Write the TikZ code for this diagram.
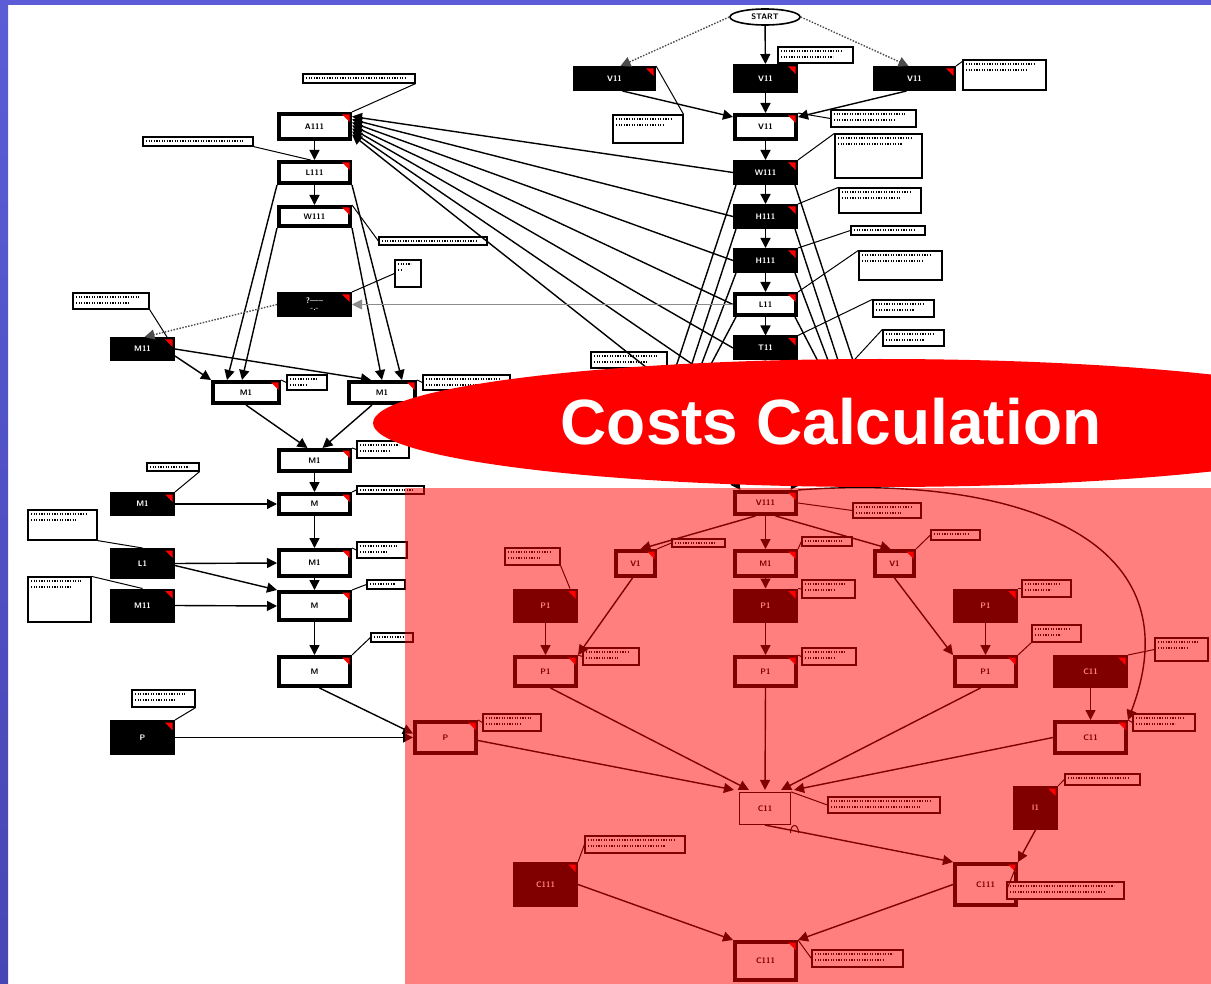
\documentclass[tikz,border=0pt]{standalone}
\usepackage{fontspec}
\newfontfamily\titlefont{Liberation Sans}
\usetikzlibrary{shapes.geometric,arrows.meta,calc}
\newcommand\nlab{\sffamily\bfseries\fontsize{8}{9}\selectfont}
\definecolor{slideblue}{RGB}{92,92,214}
\definecolor{slideblueb}{RGB}{70,70,180}
\begin{document}
\begin{tikzpicture}[x=1pt,y=-1pt,
  base/.style={rectangle, inner sep=0pt, font=\nlab, align=center},
  bk/.style={base, fill=black, text=white, draw=black, line width=1pt},
  wt/.style={base, fill=white, draw=black, line width=4pt},
  tn/.style={base, fill=white, draw=black, line width=1.2pt},
  startn/.style={ellipse, draw=black, line width=1.6pt, fill=white, inner sep=0pt,
     minimum width=70, minimum height=16, font=\nlab},
  cmt/.style={rectangle, draw=black, fill=white, line width=1.2pt, inner sep=0pt,
     path picture={\draw[line width=1.6pt, dash pattern=on 1.2pt off 1.4pt]
       ([xshift=3pt,yshift=-4pt]path picture bounding box.north west) --
       ([xshift=-10pt,yshift=-4pt]path picture bounding box.north east);}},
  cmtb/.style={cmt,
     path picture={\draw[line width=1.6pt, dash pattern=on 1.2pt off 1.4pt]
       ([xshift=3pt,yshift=-4pt]path picture bounding box.north west) --
       ([xshift=-10pt,yshift=-4pt]path picture bounding box.north east)
       ([xshift=3pt,yshift=-10pt]path picture bounding box.north west) --
       ([xshift=-20pt,yshift=-10pt]path picture bounding box.north east);}},
  arr/.style={-{Triangle[length=10pt,width=10pt]}, line width=1.4pt},
  dotarr/.style={arr, line width=1.4pt, dash pattern=on 1.5pt off 1.5pt, draw=black!70},
  cl/.style={line width=1pt}
]
\useasboundingbox (0,0) rectangle (1211,984);
\fill[white] (0,0) rectangle (1211,984);

% ---------- right column top ----------
\node[startn] (start) at (765,17) {START};
\node[bk, minimum width=82, minimum height=24] (vL) at (614.5,78.5) {V11};
\node[bk, minimum width=64, minimum height=28] (vC) at (765.5,78.5) {V11};
\node[bk, minimum width=82, minimum height=24] (vR) at (914.5,78.5) {V11};
\node[wt, minimum width=61, minimum height=24] (vW) at (765.5,127) {V11};
\node[bk, minimum width=64, minimum height=24] (w) at (765.5,172.5) {W111};
\node[bk, minimum width=64, minimum height=24] (h1) at (765.5,216.5) {H111};
\node[bk, minimum width=64, minimum height=24] (h2) at (765.5,260.5) {H111};
\node[wt, minimum width=61, minimum height=21] (l) at (765.5,304.5) {L11};
\node[bk, minimum width=64, minimum height=24] (t) at (765.5,348) {T11};

% ---------- left column ----------
\node[wt, minimum width=71, minimum height=25] (a) at (314.5,126.5) {A111};
\node[wt, minimum width=71, minimum height=21] (l1) at (314.5,172.5) {L111};
\node[wt, minimum width=71, minimum height=19] (w1) at (314.5,216.5) {W111};
\node[bk, minimum width=74, minimum height=24] (q) at (314.5,304.5) {?-----\\[-2pt]-.-};
\node[bk, minimum width=64, minimum height=23] (mB) at (142.5,349) {M11};
\node[wt, minimum width=66, minimum height=21] (m1) at (246,392.5) {M1};
\node[wt, minimum width=66, minimum height=21] (m2) at (382,392.5) {M1};
\node[wt, minimum width=71, minimum height=21] (m3) at (314.5,460.5) {M1};
\node[wt, minimum width=71, minimum height=20] (m4) at (314.5,504) {M};
\node[wt, minimum width=71, minimum height=26] (m5) at (314.5,563) {M1};
\node[wt, minimum width=71, minimum height=28] (m6) at (314.5,606) {M};
\node[wt, minimum width=71, minimum height=29] (m7) at (314.5,671.5) {M};
\node[bk, minimum width=64, minimum height=23] (mb1) at (142.5,504) {M1};
\node[bk, minimum width=64, minimum height=30] (lb) at (142.5,563.5) {L1};
\node[bk, minimum width=64, minimum height=33] (mb2) at (142.5,605.5) {M11};
\node[bk, minimum width=64, minimum height=34] (pb) at (142.5,737.5) {P};

% ---------- lower part ----------
\node[wt, minimum width=61, minimum height=22] (v111) at (765.5,503) {V111};
\node[wt, minimum width=39, minimum height=25] (va) at (635.5,563.5) {V1};
\node[wt, minimum width=61, minimum height=25] (mc) at (765.5,563.5) {M1};
\node[wt, minimum width=39, minimum height=25] (vb) at (894.5,563.5) {V1};
\node[bk, minimum width=64, minimum height=33] (pa) at (545.5,605.5) {P1};
\node[bk, minimum width=64, minimum height=33] (pbk) at (765.5,605.5) {P1};
\node[bk, minimum width=64, minimum height=33] (pc) at (985.5,605.5) {P1};
\node[wt, minimum width=61, minimum height=29] (pa2) at (545.5,671.5) {P1};
\node[wt, minimum width=61, minimum height=29] (pb2) at (765.5,671.5) {P1};
\node[wt, minimum width=61, minimum height=29] (pc2) at (985.5,671.5) {P1};
\node[bk, minimum width=74, minimum height=32] (cb) at (1090.5,671.5) {C11};
\node[wt, minimum width=61, minimum height=31] (pp) at (445.5,737.5) {P};
\node[wt, minimum width=71, minimum height=31] (ct) at (1090.5,737.5) {C11};
\node[tn, minimum width=51, minimum height=32] (cc) at (765,808.5) {C11};
\node[bk, minimum width=44, minimum height=43] (ib) at (1035.5,808) {I1};
\node[bk, minimum width=64, minimum height=44] (cbl) at (545.5,884.5) {C111};
\node[wt, minimum width=61, minimum height=41] (ct2) at (985.5,884.5) {C111};
\node[wt, minimum width=61, minimum height=38] (cbot) at (765.5,961) {C111};

% red corner marks
\foreach \n in {vL,vC,vR,vW,w,h1,h2,l,t,a,l1,w1,q,mB,m1,m2,m3,m4,m5,m6,m7,mb1,lb,mb2,pb,
  v111,va,mc,vb,pa,pbk,pc,pa2,pb2,pc2,cb,pp,ct,ib,cbl,ct2,cbot}
  \fill[red] ($(\n.north east)+(-10,2.5)$) -- ($(\n.north east)+(-2.5,2.5)$) -- ($(\n.north east)+(-2.5,10)$) -- cycle;

% ---------- comments ----------
\node[cmtb, minimum width=75, minimum height=16] (c1) at (815.5,55) {};
\node[cmtb, minimum width=83, minimum height=30] (c2) at (1004.5,75) {};
\node[cmtb, minimum width=70, minimum height=28] (c3) at (648,129) {};
\node[cmtb, minimum width=85, minimum height=17] (c4) at (873.5,118.5) {};
\node[cmtb, minimum width=87, minimum height=44] (c5) at (878.5,156) {};
\node[cmtb, minimum width=82, minimum height=25] (c6) at (880,200.5) {};
\node[cmt, minimum width=74, minimum height=9] (c7) at (888,230.5) {};
\node[cmtb, minimum width=83, minimum height=29] (c8) at (900.5,265.5) {};
\node[cmtb, minimum width=61, minimum height=17] (c9) at (903.5,308.5) {};
\node[cmtb, minimum width=61, minimum height=16] (c10) at (913.5,338) {};
\node[cmtb, minimum width=76, minimum height=16] (c11) at (629,360) {};
\node[cmt, minimum width=112, minimum height=9] (c12) at (359,78.5) {};
\node[cmt, minimum width=110, minimum height=9] (c13) at (198,141.5) {};
\node[cmt, minimum width=108, minimum height=8] (c14) at (433,241) {};
\node[cmtb, minimum width=26, minimum height=27] (c15) at (408,273.5) {};
\node[cmtb, minimum width=76, minimum height=16] (c16) at (111,301) {};
\node[cmtb, minimum width=40, minimum height=15] (c17) at (307,382.5) {};
\node[cmtb, minimum width=87, minimum height=15] (c18) at (466.5,382.5) {};
\node[cmtb, minimum width=52, minimum height=17] (c19) at (383,449.5) {};
\node[cmt, minimum width=67, minimum height=8] (c20) at (390.5,490) {};
\node[cmtb, minimum width=50, minimum height=16] (c21) at (382,550) {};
\node[cmt, minimum width=38, minimum height=9] (c22) at (386,584.5) {};
\node[cmt, minimum width=42, minimum height=9] (c23) at (392,637.5) {};
\node[cmt, minimum width=52, minimum height=8] (c24) at (173,467) {};
\node[cmtb, minimum width=69, minimum height=30] (c25) at (62.5,525) {};
\node[cmtb, minimum width=63, minimum height=45] (c26) at (59.5,599.5) {};
\node[cmtb, minimum width=63, minimum height=17] (c27) at (163.5,698.5) {};
\node[cmtb, minimum width=68, minimum height=15] (c28) at (887,510.5) {};
\node[cmt, minimum width=53, minimum height=8] (c29) at (698.5,543) {};
\node[cmt, minimum width=50, minimum height=9] (c30) at (827,541.5) {};
\node[cmt, minimum width=49, minimum height=10] (c31) at (955.5,535) {};
\node[cmtb, minimum width=55, minimum height=17] (c32) at (532.5,556.5) {};
\node[cmtb, minimum width=53, minimum height=18] (c33) at (828.5,589) {};
\node[cmtb, minimum width=49, minimum height=17] (c34) at (1046.5,588.5) {};
\node[cmtb, minimum width=56, minimum height=17] (c35) at (611,656.5) {};
\node[cmtb, minimum width=54, minimum height=17] (c36) at (829,656.5) {};
\node[cmtb, minimum width=49, minimum height=17] (c37) at (1056.5,633.5) {};
\node[cmtb, minimum width=53, minimum height=23] (c38) at (1181.5,649.5) {};
\node[cmtb, minimum width=62, minimum height=17] (c39) at (1164,722.5) {};
\node[cmtb, minimum width=58, minimum height=17] (c40) at (512,722.5) {};
\node[cmtb, minimum width=112, minimum height=16] (c41) at (884,805) {};
\node[cmt, minimum width=75, minimum height=11] (c42) at (1102.5,779.5) {};
\node[cmtb, minimum width=100, minimum height=17] (c43) at (635,844.5) {};
\node[cmtb, minimum width=117, minimum height=17] (c44) at (1065.5,890.5) {};
\node[cmtb, minimum width=91, minimum height=17] (c45) at (857.5,958.5) {};

% comment connectors
\draw[cl] (vC.north east) -- (c1.south west);
\draw[cl] (vR.north east) -- ([yshift=-2pt]c2.north west);
\draw[cl] (vL.north east) -- (c3.north east);
\draw[cl] (vW.north east) -- (c4.west);
\draw[cl] (w.north east) -- (c5.north west);
\draw[cl] (h1.north east) -- (c6.north west);
\draw[cl] (h2.north east) -- (c7.west);
\draw[cl] (l.north east) -- (c8.north west);
\draw[cl] (t.north east) -- (c9.north west);
\coordinate (hc10) at (845,370);
\draw[cl] (hc10) -- (c10.north west);
\draw[cl] (a.north east) -- (c12.south east);
\draw[cl] (c13.south east) -- ([xshift=-4pt]l1.north);
\draw[cl] (w1.north east) -- (c14.west);
\draw[cl] (q.north east) -- (c15.west);
\draw[cl] (c16.south east) -- ([xshift=-8pt]mB.north east);
\draw[cl] (m1.north east) -- (c17.west);
\draw[cl] (m2.north east) -- (c18.west);
\draw[cl] (m3.north east) -- (c19.west);
\draw[cl] (m4.north east) -- (c20.west);
\draw[cl] (m5.north east) -- (c21.west);
\draw[cl] (m6.north east) -- (c22.west);
\draw[cl] (m7.north east) -- (c23.west);
\draw[cl] (c24.south east) -- (mb1.north east);
\draw[cl] (c25.south east) -- (lb.north);
\draw[cl] (c26.north east) -- (mb2.north);
\draw[cl] (c27.south east) -- (pb.north east);
\draw[cl] (v111.east) -- (c28.west);
\draw[cl] (va.north east) -- (c29.west);
\draw[cl] (mc.north east) -- (c30.west);
\draw[cl] (vb.north east) -- (c31.west);
\draw[cl] (c32.south east) -- ([xshift=-8pt]pa.north east);
\draw[cl] (pbk.north east) -- (c33.west);
\draw[cl] (pc.north east) -- (c34.west);
\draw[cl] (pa2.north east) -- (c35.west);
\draw[cl] (pb2.north east) -- (c36.west);
\draw[cl] (pc2.north east) -- (c37.south west);
\draw[cl] (cb.north east) -- (c38.west);
\draw[cl] (ct.north east) -- (c39.west);
\draw[cl] (pp.north east) -- (c40.west);
\draw[cl] (cc.north east) -- (c41.west);
\draw[cl] (ib.north east) -- (c42.west);
\draw[cl] (cbl.north east) -- (c43.west);
\draw[cl] (ct2.north east) -- (c44.west);
\draw[cl] (cbot.north east) -- (c45.west);
\draw[cl] (790.5,833) .. controls (790.5,823) and (798.5,823) .. (798.5,833);

% ---------- edges top ----------
\draw[dotarr] (start.west) -- ([xshift=6pt]vL.north);
\draw[arr] (start) -- (vC);
\draw[dotarr] (start.east) -- ([xshift=-6pt]vR.north);
\draw[arr] ([xshift=8pt]vL.south) -- ([yshift=10pt]vW.west);
\draw[arr] (vC) -- (vW);
\draw[arr] ([xshift=-8pt]vR.south) -- ([yshift=10pt]vW.east);
\draw[arr] (vW) -- (w);
\draw[arr] (w) -- (h1);
\draw[arr] (h1) -- (h2);
\draw[arr] (h2) -- (l);
\draw[arr] (l) -- (t);
\coordinate (hT) at (765,400);
\draw[arr] (t) -- (hT);

% lines into A
\coordinate (hA1) at (733,392);
\coordinate (hA2) at (733,436);
\draw[arr] (w.west) -- ([yshift=10pt]a.east);
\draw[arr] (h1.west) -- ([yshift=7pt]a.east);
\draw[arr] (h2.west) -- ([yshift=4pt]a.east);
\draw[arr] (l.west) -- ([yshift=1pt]a.east);
\draw[arr] (t.west) -- ([yshift=-2pt]a.east);
\draw[arr] (hA1) -- ([yshift=-5pt]a.east);
\draw[arr] (hA2) -- ([yshift=-8pt]a.east);

% lines down the sides of the right column
\coordinate (hl1) at (665,400); \coordinate (hl2) at (680,400);
\coordinate (hl3) at (688,400); \coordinate (hl4) at (692,400);
\coordinate (hr1) at (866,400); \coordinate (hr2) at (851,400);
\coordinate (hr3) at (843,400); \coordinate (hr4) at (838,400);
\draw[line width=1.4pt] ([xshift=3pt]w.south west) -- (hl1);
\draw[line width=1.4pt] ([xshift=3pt]h1.south west) -- (hl2);
\draw[line width=1.4pt] ([xshift=3pt]h2.south west) -- (hl3);
\draw[line width=1.4pt] ([xshift=3pt]l.south west) -- (hl4);
\draw[line width=1.4pt] ([xshift=-3pt]w.south east) -- (hr1);
\draw[line width=1.4pt] ([xshift=-3pt]h1.south east) -- (hr2);
\draw[line width=1.4pt] ([xshift=-3pt]h2.south east) -- (hr3);
\draw[line width=1.4pt] ([xshift=-3pt]l.south east) -- (hr4);

% ---------- edges left ----------
\draw[arr] (a) -- (l1);
\draw[arr] (l1) -- (w1);
\draw[arr] (l1.south west) -- ([xshift=-19pt]m1.north);
\draw[arr] (w1.south west) -- ([xshift=-4pt]m1.north);
\draw[arr] (w1.south east) -- (m2.north);
\draw[arr] (l1.south east) -- ([xshift=20pt]m2.north);
\draw[arr] ([yshift=5pt]mB.south east) -- (m1.north west);
\draw[arr] (mB.east) -- ([xshift=24pt]m2.north west);
\draw[dotarr] (q.west) -- ([xshift=2pt]mB.north);
\draw[-{Triangle[length=10pt,width=10pt]}, line width=1pt, draw=black!45] (l.west) -- (q.east);
\draw[arr] (m1.south) -- ([xshift=-7pt]m3.north);
\draw[arr] ([xshift=-10pt]m2.south) -- ([xshift=8pt]m3.north);
\draw[arr] (m3) -- (m4);
\draw[arr] (m4) -- (m5);
\draw[arr] (m5) -- (m6);
\draw[arr] (m6) -- (m7);
\draw[arr] (mb1.east) -- (m4.west);
\draw[arr] (lb.east) -- (m5.west);
\draw[arr] ([yshift=-2pt]lb.east) -- (m6.north west);
\draw[arr] (mb2.east) -- (m6.west);
\draw[arr] ([xshift=5pt]m7.south) -- ([yshift=4pt]pp.west);
\draw[arr] (pb.east) -- (pp.west);

% ---------- edges lower ----------
\coordinate (hV1) at (712,450);
\coordinate (hV2) at (818,450);
\draw[arr] (hV1) -- ([xshift=-25pt]v111.north);
\draw[arr] (hV2) -- ([xshift=25pt]v111.north);
\draw[arr] ([xshift=-10pt]v111.south) -- ([xshift=5pt]va.north);
\draw[arr] (v111) -- (mc);
\draw[arr] ([xshift=10pt]v111.south) -- ([xshift=-4pt]vb.north);
\draw[arr] (v111.north east) .. controls (1000,475) and (1200,530) .. (ct.north east);
\draw[arr] ([xshift=-3pt]va.south) -- (pa2.north east);
\draw[arr] (pa) -- (pa2);
\draw[arr] (mc) -- (pbk);
\draw[arr] (pbk) -- (pb2);
\draw[arr] (pc) -- (pc2);
\draw[arr] (vb.south) -- (pc2.north west);
\draw[arr] (cb) -- (ct);
\draw[arr] ([yshift=-3pt]pp.east) -- ([xshift=-5pt,yshift=2pt]cc.north west);
\draw[arr] ([xshift=5pt]pa2.south) -- ([xshift=10pt,yshift=2pt]cc.north west);
\draw[arr] (pb2.south) -- ([yshift=2pt]cc.north);
\draw[arr] ([xshift=-5pt]pc2.south) -- ([xshift=-10pt,yshift=2pt]cc.north east);
\draw[arr] (ct.west) -- ([xshift=3pt,yshift=2pt]cc.north east);
\draw[arr] (cc.south) -- (ct2.north west);
\draw[arr] (ib.south) -- (ct2.north east);
\draw[arr] (cbl.east) -- (cbot.north west);
\draw[arr] (ct2.west) -- (cbot.north east);

% ---------- overlay, ellipse, title ----------
\fill[red, opacity=0.5] (405,488) rectangle (1211,984);
\fill[red] (880,423) ellipse [x radius=507, y radius=64];
\node[font=\titlefont\bfseries\fontsize{64}{70}\selectfont, text=white] (title) at (831,422) {Costs Calculation};

% ---------- slide border ----------
\fill[slideblue] (0,0) rectangle (1211,5);
\shade[top color=slideblue, bottom color=slideblueb] (0,0) rectangle (8,984);
\end{tikzpicture}
\end{document}
